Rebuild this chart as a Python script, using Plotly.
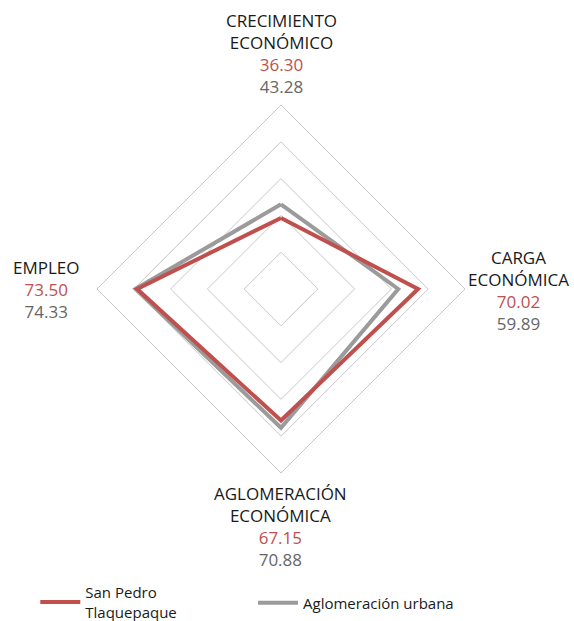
import plotly.graph_objects as go

categories = ["CRECIMIENTO<br>ECONÓMICO", "CARGA<br>ECONÓMICA", "AGLOMERACIÓN<br>ECONÓMICA", "EMPLEO"]
san_pedro = [36.30, 70.02, 67.15, 73.50]
aglomeracion = [43.28, 59.89, 70.88, 74.33]
series_names = ["San Pedro<br>Tlaquepaque", "Aglomeración urbana"]

RED = "#c0504d"
GRAY = "#9b9b9b"
GRAY_TXT = "#666666"
GRID = "#c8c8c8"
TXT = "#1a1a1a"
FONT = "Open Sans"
RMAX = 94
W, H = 574, 621

fig = go.Figure()
fig.add_trace(go.Scatterpolar(
    r=aglomeracion + aglomeracion[:1], theta=categories + categories[:1],
    mode="lines", line=dict(color=GRAY, width=4), name=series_names[1],
    legend="legend2", hoverinfo="skip"))
fig.add_trace(go.Scatterpolar(
    r=san_pedro + san_pedro[:1], theta=categories + categories[:1],
    mode="lines", line=dict(color=RED, width=4), name=series_names[0],
    legend="legend", hoverinfo="skip"))

# label block centres (px from top-left) for each category
label_pos = [(281, 53.5), (518, 290), (280, 526), (46, 289)]
anns = []
for cat, v1, v2, (x, yc) in zip(categories, san_pedro, aglomeracion, label_pos):
    text = (f"{cat}<br><span style='color:{RED}'>{v1:.2f}</span>"
            f"<br><span style='color:{GRAY_TXT}'>{v2:.2f}</span>")
    anns.append(dict(x=x / W, y=1 - yc / H, xref="paper", yref="paper",
                     text=text, showarrow=False, xanchor="center", yanchor="middle",
                     align="center", font=dict(family=FONT, size=17, color=TXT)))

fig.update_layout(
    width=W, height=H,
    margin=dict(l=0, r=0, t=0, b=0, autoexpand=False),
    paper_bgcolor="white", plot_bgcolor="white",
    font=dict(family=FONT, size=15, color=TXT),
    polar=dict(
        domain=dict(x=[97 / W, 465 / W], y=[148 / H, 516 / H]),
        bgcolor="white",
        gridshape="linear",
        radialaxis=dict(range=[0, RMAX], tickvals=[RMAX * k / 5 for k in range(1, 6)],
                        showticklabels=False, showline=False, ticks="",
                        gridcolor=GRID, gridwidth=1),
        angularaxis=dict(rotation=90, direction="clockwise", showticklabels=False,
                         ticks="", showgrid=False, showline=True, linecolor=GRID, linewidth=1),
    ),
    showlegend=True,
    legend=dict(orientation="h", x=0.0615, y=1 - 602 / H, xanchor="left", yanchor="middle",
                itemwidth=40, font=dict(family=FONT, size=15, color=TXT)),
    legend2=dict(orientation="h", x=253 / W, y=1 - 603 / H, xanchor="left",
                 yanchor="middle", itemwidth=40, font=dict(family=FONT, size=15, color=TXT)),
    annotations=anns,
)

fig.write_html("out.html", config={"displayModeBar": False},
               post_script="document.body.style.margin='0';")
